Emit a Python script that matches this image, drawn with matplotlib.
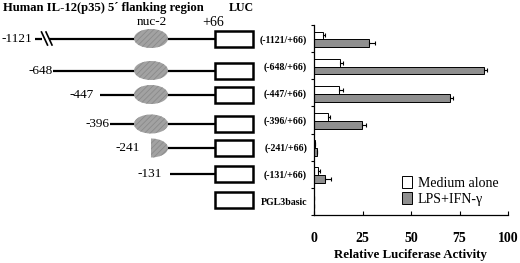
import matplotlib
matplotlib.use("Agg")
import matplotlib.pyplot as plt
from matplotlib.patches import Ellipse, Rectangle
import numpy as np

plt.rcParams['font.family'] = ['Liberation Serif', 'DejaVu Serif']
plt.rcParams['hatch.linewidth'] = 0.6

# ---- data ----
constructs = ["(-1121/+66)", "(-648/+66)", "(-447/+66)", "(-396/+66)",
              "(-241/+66)", "(-131/+66)", "PGL3basic"]
medium = [4.5, 13.4, 12.9, 7.4, 0.5, 2.2, 0.0]
medium_err = [1.0, 1.4, 2.0, 1.0, 0.0, 0.8, 0.0]
lps = [28.5, 87.5, 69.9, 24.9, 1.7, 5.7, 0.0]
lps_err = [3.0, 1.5, 1.5, 1.7, 0.0, 3.1, 0.0]
series_names = ["Medium alone", "LPS+IFN-γ"]
x_ticks = [0, 25, 50, 75, 100]
start_labels = ["-1121", "-648", "-447", "-396", "-241", "-131"]

# ---- layout (pixels) ----
W, H = 520, 263
fig = plt.figure(figsize=(W / 100, H / 100), dpi=100)

dax = fig.add_axes([0, 0, 1, 1])
dax.set_xlim(0, W)
dax.set_ylim(H, 0)
dax.axis('off')

row_y = [38.5, 70.5, 94.5, 124, 148, 174, 200]
label_right = [32, 53, 94, 110, 140, 162]
line_start = [49, 53, 100, 110, 168, 170]
box_x0, box_w, box_h = 215, 38, 16
nuc_x, nuc_w, nuc_h = 151, 34, 19
lw_line = 1.6

dax.text(3, 8, "Human IL-12(p35) 5\u00b4 flanking region", fontsize=9.1,
         fontweight='bold', ha='left', va='center')
dax.text(241, 8, "LUC", fontsize=8.6, fontweight='bold', ha='center', va='center')
dax.text(152, 22, "nuc-2", fontsize=9.5, ha='center', va='center')
dax.text(213, 22, "+66", fontsize=10, ha='center', va='center')

for i, y in enumerate(row_y):
    dax.add_patch(Rectangle((box_x0, y - box_h / 2), box_w, box_h,
                            facecolor='white', edgecolor='black', lw=1.8, zorder=3))
    if i < len(start_labels):
        dax.text(label_right[i], y, start_labels[i], fontsize=9.5,
                 ha='right', va='center')
        dax.plot([line_start[i], box_x0], [y, y], color='black', lw=lw_line,
                 solid_capstyle='butt', zorder=1)
        if i <= 4:
            e = Ellipse((nuc_x, y), nuc_w, nuc_h, facecolor='#a2a2a2',
                        edgecolor='#8a8a8a', lw=0, hatch='//////', zorder=2)
            dax.add_patch(e)
            if i == 4:
                clip = Rectangle((nuc_x, y - 15), 30, 30, transform=dax.transData)
                e.set_clip_path(clip)

# break mark on first row
y0 = row_y[0]
dax.plot([35, 42], [y0, y0], color='black', lw=lw_line, solid_capstyle='butt')
dax.plot([41.5, 47.5], [y0 - 6.5, y0 + 6.5], color='black', lw=1.2)
dax.plot([46, 52], [y0 - 6.5, y0 + 6.5], color='black', lw=1.2)

# ---- bar chart ----
ax_left, ax_right = 314, 508
ax_top, ax_bottom = 25, 215
ax = fig.add_axes([ax_left / W, 1 - ax_bottom / H,
                   (ax_right - ax_left) / W, (ax_bottom - ax_top) / H])
ax.patch.set_alpha(0)
n = len(constructs)
pos = np.arange(n) + 0.5
bh = 0.29
ekw = dict(elinewidth=0.8, capsize=1.5, capthick=0.8, ecolor='black')
ax.barh(pos - 0.115, medium, height=bh, color='white', edgecolor='black', lw=0.7,
        xerr=[np.zeros(n), medium_err], error_kw=ekw, label=series_names[0])
ax.barh(pos + 0.175, lps, height=bh, color='#8f8f8f', edgecolor='black', lw=0.7,
        xerr=[np.zeros(n), lps_err], error_kw=ekw, label=series_names[1])

ax.set_xlim(0, 100)
ax.set_ylim(n, 0)
ax.set_xticks(x_ticks)
ax.set_xticklabels([str(t) for t in x_ticks], fontsize=10, fontweight='bold')
ax.tick_params(axis='x', direction='in', length=3, width=0.8, pad=12)
ax.set_yticks(np.arange(n + 1))
ax.set_yticklabels([])
ax.tick_params(axis='y', which='major', direction='out', length=2.5, width=0.8)
ax.set_yticks(pos, minor=True)
ax.set_yticklabels(constructs, minor=True, fontsize=7.1, fontweight='bold')
ax.tick_params(axis='y', which='minor', length=0, pad=5)
for s in ['top', 'right']:
    ax.spines[s].set_visible(False)
for s in ['left', 'bottom']:
    ax.spines[s].set_linewidth(0.9)
ax.set_xlabel("Relative Luciferase Activity", fontsize=9.3, fontweight='bold',
              labelpad=3)

ax.legend(loc='upper left', bbox_to_anchor=(402 / W, 1 - 176 / H),
          bbox_transform=fig.transFigure, frameon=False, fontsize=10,
          handlelength=0.75, handleheight=0.9, handletextpad=0.4,
          labelspacing=0.2, borderpad=0, borderaxespad=0)

fig.savefig("out.png", dpi=100)
